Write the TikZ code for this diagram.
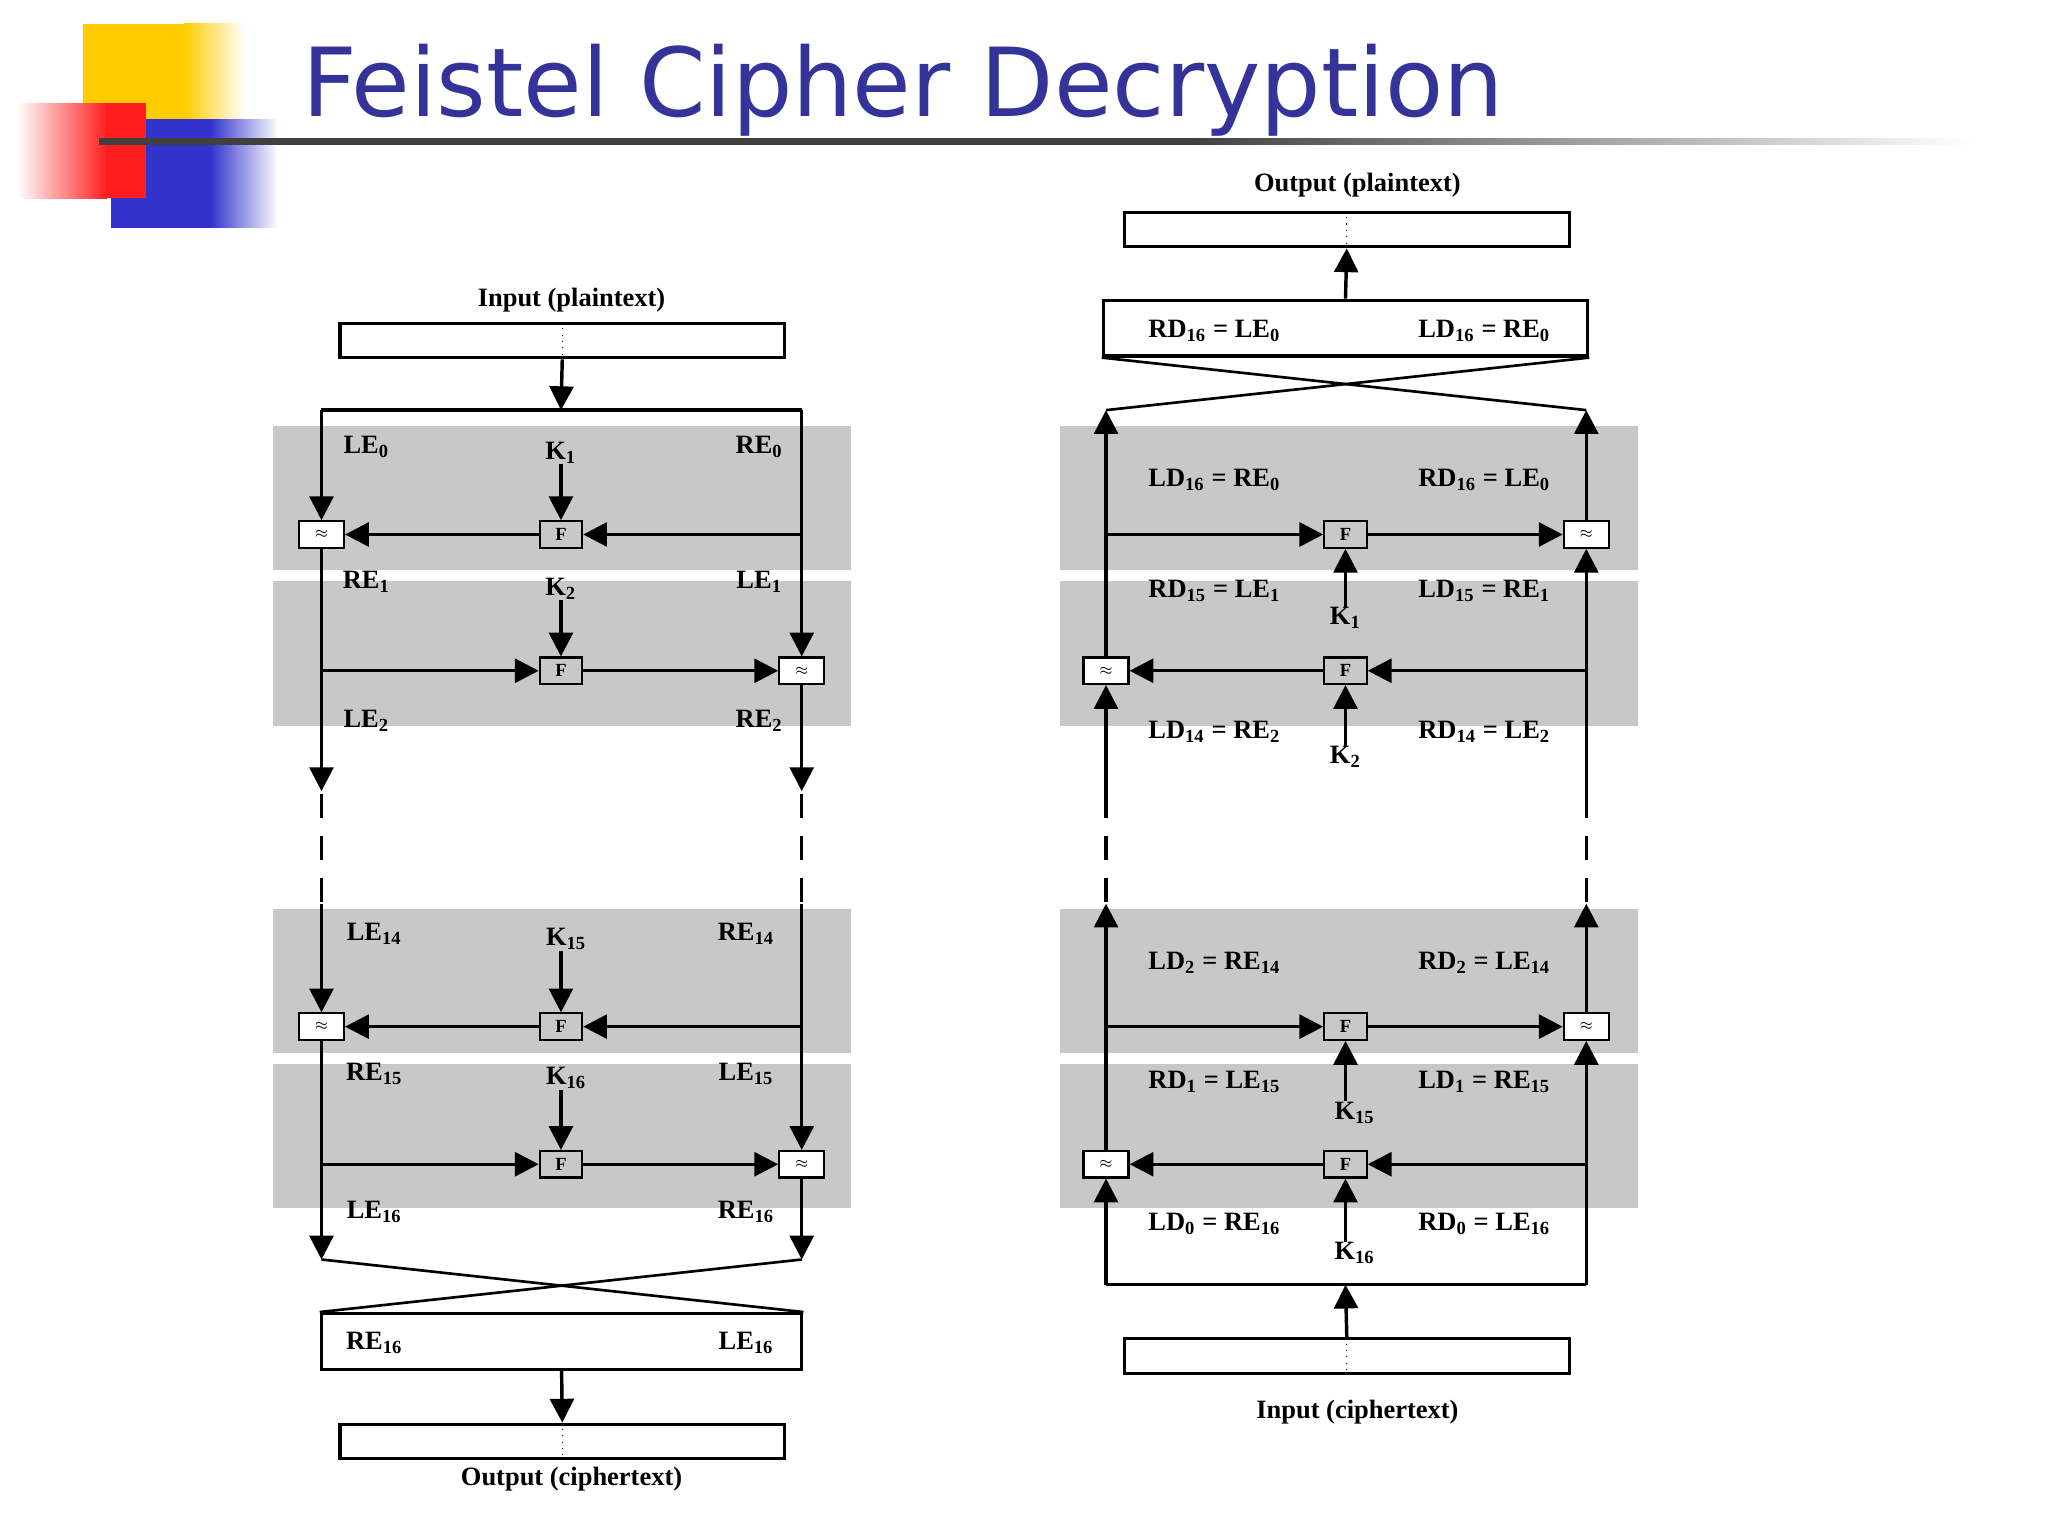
\documentclass[tikz,border=0pt]{standalone}
\usepackage{fontspec}
\setmainfont{Liberation Serif}
\newfontfamily\titlefont{DejaVu Sans}
\usetikzlibrary{arrows.meta}
\definecolor{band}{RGB}{200,200,200}
\definecolor{ttl}{RGB}{51,51,153}
\definecolor{lyel}{RGB}{255,204,0}
\definecolor{lblu}{RGB}{51,51,204}
\definecolor{lred}{RGB}{255,30,30}
\newcommand\sbx[2]{#1\textsubscript{#2}}
\begin{document}
\begin{tikzpicture}[x=0.5pt,y=-0.5pt,
  ln/.style={line width=1.3pt},
  arr/.style={-{Triangle[length=9pt,width=9pt]}},
  xr/.style={draw,line width=0.8pt,fill=white,minimum width=17pt,minimum height=10pt,inner sep=0pt,font=\tiny},
  ff/.style={draw,line width=0.8pt,fill=band,minimum width=16pt,minimum height=10pt,inner sep=0pt,font=\scriptsize\bfseries},
  lab/.style={font=\fontsize{10}{10}\selectfont\bfseries,inner sep=0pt},
  iob/.style={draw,line width=1.2pt,minimum width=168pt,minimum height=13pt,inner sep=0pt},
  dsh/.style={line width=1.3pt,dash pattern=on 9pt off 7pt}]
\useasboundingbox (0,0) rectangle (1548,1161);
% logo and title
\fill[lyel] (63,18) rectangle (140,95);
\shade[left color=lyel,right color=white] (139,18) rectangle (185,95);
\fill[lblu] (84,90) rectangle (160,172);
\shade[left color=lblu,right color=white] (159,90) rectangle (210,172);
\shade[left color=white,right color=lred] (13,78) rectangle (81,150);
\fill[lred] (80,78) rectangle (110,150);
\fill[black!75] (75,104.5) rectangle (900,109.5);
\shade[left color=black!75,right color=white] (899,104.5) rectangle (1490,109.5);
\node[anchor=base west,text=ttl,font=\titlefont\fontsize{36}{36}\selectfont,inner sep=0pt] (title) at (228,88) {Feistel Cipher Decryption};
% gray bands
\foreach \x in {206,801}{
  \foreach \ya/\yb in {322/431,439/549,687/796,804/913}{
    \fill[band] (\x,\ya) rectangle (\x+437,\yb);}}
% ---------------- left: encryption ----------------
\node[lab] (inLt) at (432,227) {Input (plaintext)};
\node[iob] (inL) at (425,257.5) {};
\draw[dotted] (inL.north) -- (inL.south);
\coordinate (tl) at (243,310); \coordinate (tr) at (606,310); \coordinate (tm) at (424,310);
\draw[ln] (tl) -- (tr);
\draw[ln,arr] (inL.south) -- (tm);
\node[xr] (xa) at (243,404) {$\approx$};
\node[ff] (fa) at (424,404) {F};
\node[xr] (xb) at (606,507) {$\approx$};
\node[ff] (fb) at (424,507) {F};
\node[lab] (k1) at (424,342) {\sbx{K}{1}};
\node[lab] (k2) at (424,445) {\sbx{K}{2}};
\coordinate (r1) at (606,404); \coordinate (l2) at (243,507);
\draw[ln,arr] (tl) -- (xa);
\draw[ln,arr] (k1) -- (fa);
\draw[ln] (tr) -- (r1);
\draw[ln,arr] (r1) -- (fa);
\draw[ln,arr] (fa) -- (xa);
\draw[ln,arr] (r1) -- (xb);
\draw[ln] (xa) -- (l2);
\draw[ln,arr] (l2) -- (fb);
\draw[ln,arr] (fb) -- (xb);
\draw[ln,arr] (k2) -- (fb);
\draw[ln,arr] (l2) -- (243,598);
\draw[ln,arr] (xb) -- (606,598);
\draw[dsh] (243,600) -- (243,683);
\draw[dsh] (606,600) -- (606,683);
\node[lab] at (277,338) {\sbx{LE}{0}};
\node[lab] at (574,338) {\sbx{RE}{0}};
\node[lab] at (277,440) {\sbx{RE}{1}};
\node[lab] at (574,440) {\sbx{LE}{1}};
\node[lab] at (277,545) {\sbx{LE}{2}};
\node[lab] at (574,545) {\sbx{RE}{2}};
% rounds 15 and 16
\node[xr] (xc) at (243,776) {$\approx$};
\node[ff] (fc) at (424,776) {F};
\node[xr] (xd) at (606,880) {$\approx$};
\node[ff] (fd) at (424,880) {F};
\node[lab] (k15) at (428,710) {\sbx{K}{15}};
\node[lab] (k16) at (428,815) {\sbx{K}{16}};
\coordinate (r15) at (606,776); \coordinate (l16) at (243,880);
\draw[ln,arr] (243,683) -- (xc);
\draw[ln] (606,683) -- (r15);
\draw[ln,arr] (k15.south -| fc) -- (fc);
\draw[ln,arr] (r15) -- (fc);
\draw[ln,arr] (fc) -- (xc);
\draw[ln,arr] (r15) -- (xd);
\draw[ln] (xc) -- (l16);
\draw[ln,arr] (l16) -- (fd);
\draw[ln,arr] (fd) -- (xd);
\draw[ln,arr] (k16.south -| fd) -- (fd);
\coordinate (bl) at (243,952); \coordinate (br) at (606,952);
\draw[ln,arr] (l16) -- (bl);
\draw[ln,arr] (xd) -- (br);
\node[lab] at (283,706) {\sbx{LE}{14}};
\node[lab] at (564,706) {\sbx{RE}{14}};
\node[lab] at (283,812) {\sbx{RE}{15}};
\node[lab] at (564,812) {\sbx{LE}{15}};
\node[lab] at (283,916) {\sbx{LE}{16}};
\node[lab] at (564,916) {\sbx{RE}{16}};
\node[draw,line width=1.3pt,minimum width=181.5pt,minimum height=21pt,inner sep=0pt] (swL) at (424.5,1014) {};
\draw[line width=1pt] (bl) -- (swL.north east);
\draw[line width=1pt] (br) -- (swL.north west);
\node[lab] at (283,1015) {\sbx{RE}{16}};
\node[lab] at (564,1015) {\sbx{LE}{16}};
\node[iob] (outL) at (425,1089.5) {};
\draw[dotted] (outL.north) -- (outL.south);
\draw[ln,arr] (swL.south) -- (outL.north);
\node[lab] (outLt) at (432,1118) {Output (ciphertext)};
% ---------------- right: decryption ----------------
\node[lab] (outRt) at (1026,140) {Output (plaintext)};
\node[iob] (outR) at (1018,173.5) {};
\draw[dotted] (outR.north) -- (outR.south);
\node[draw,line width=1.3pt,minimum width=183pt,minimum height=21pt,inner sep=0pt] (swR) at (1017,248) {};
\draw[ln,arr] (swR.north) -- (outR.south);
\node[lab] at (918,250) {\sbx{RD}{16} = \sbx{LE}{0}};
\node[lab] at (1122,250) {\sbx{LD}{16} = \sbx{RE}{0}};
\coordinate (c1) at (836,310); \coordinate (c2) at (1199,310);
\draw[line width=1pt] (swR.south west) -- (c2);
\draw[line width=1pt] (swR.south east) -- (c1);
\node[xr] (ya) at (836,507) {$\approx$};
\node[xr] (yb) at (1199,404) {$\approx$};
\node[ff] (ga) at (1017,404) {F};
\node[ff] (gb) at (1017,507) {F};
\node[lab] (q1) at (1017,467) {\sbx{K}{1}};
\node[lab] (q2) at (1017,572) {\sbx{K}{2}};
\coordinate (m1) at (836,404); \coordinate (m2) at (1199,507);
\draw[ln,arr] (ya) -- (c1);
\draw[ln,arr] (yb) -- (c2);
\draw[ln,arr] (m1) -- (ga);
\draw[ln,arr] (ga) -- (yb);
\draw[ln,arr] (q1) -- (ga);
\draw[ln,arr] (m2) -- (gb);
\draw[ln,arr] (gb) -- (ya);
\draw[ln,arr] (q2) -- (gb);
\draw[ln,arr] (1199,600) -- (yb);
\draw[ln,arr] (836,600) -- (ya);
\draw[dsh] (836,600) -- (836,683);
\draw[dsh] (1199,600) -- (1199,683);
\node[lab] at (918,363) {\sbx{LD}{16} = \sbx{RE}{0}};
\node[lab] at (1122,363) {\sbx{RD}{16} = \sbx{LE}{0}};
\node[lab] at (918,447) {\sbx{RD}{15} = \sbx{LE}{1}};
\node[lab] at (1122,447) {\sbx{LD}{15} = \sbx{RE}{1}};
\node[lab] at (918,553) {\sbx{LD}{14} = \sbx{RE}{2}};
\node[lab] at (1122,553) {\sbx{RD}{14} = \sbx{LE}{2}};
% lower rounds
\node[xr] (yc) at (836,880) {$\approx$};
\node[xr] (yd) at (1199,776) {$\approx$};
\node[ff] (gc) at (1017,776) {F};
\node[ff] (gd) at (1017,880) {F};
\node[lab] (q15) at (1024,841) {\sbx{K}{15}};
\node[lab] (q16) at (1024,947) {\sbx{K}{16}};
\coordinate (m3) at (836,776); \coordinate (m4) at (1199,880);
\coordinate (bl2) at (836,971); \coordinate (br2) at (1199,971); \coordinate (bm2) at (1017,971);
\draw[ln,arr] (yc) -- (836,683);
\draw[ln,arr] (yd) -- (1199,683);
\draw[ln,arr] (m3) -- (gc);
\draw[ln,arr] (gc) -- (yd);
\draw[ln,arr] (q15.north -| gc) -- (gc);
\draw[ln,arr] (m4) -- (gd);
\draw[ln,arr] (gd) -- (yc);
\draw[ln,arr] (q16.north -| gd) -- (gd);
\draw[ln] (bl2) -- (br2);
\draw[ln,arr] (br2) -- (yd);
\draw[ln,arr] (bl2) -- (yc);
\node[lab] at (918,728) {\sbx{LD}{2} = \sbx{RE}{14}};
\node[lab] at (1122,728) {\sbx{RD}{2} = \sbx{LE}{14}};
\node[lab] at (918,818) {\sbx{RD}{1} = \sbx{LE}{15}};
\node[lab] at (1122,818) {\sbx{LD}{1} = \sbx{RE}{15}};
\node[lab] at (918,925) {\sbx{LD}{0} = \sbx{RE}{16}};
\node[lab] at (1122,925) {\sbx{RD}{0} = \sbx{LE}{16}};
\node[iob] (inR) at (1018,1025) {};
\draw[dotted] (inR.north) -- (inR.south);
\draw[ln,arr] (inR.north) -- (bm2);
\node[lab] (inRt) at (1026,1067) {Input (ciphertext)};
\end{tikzpicture}
\end{document}
